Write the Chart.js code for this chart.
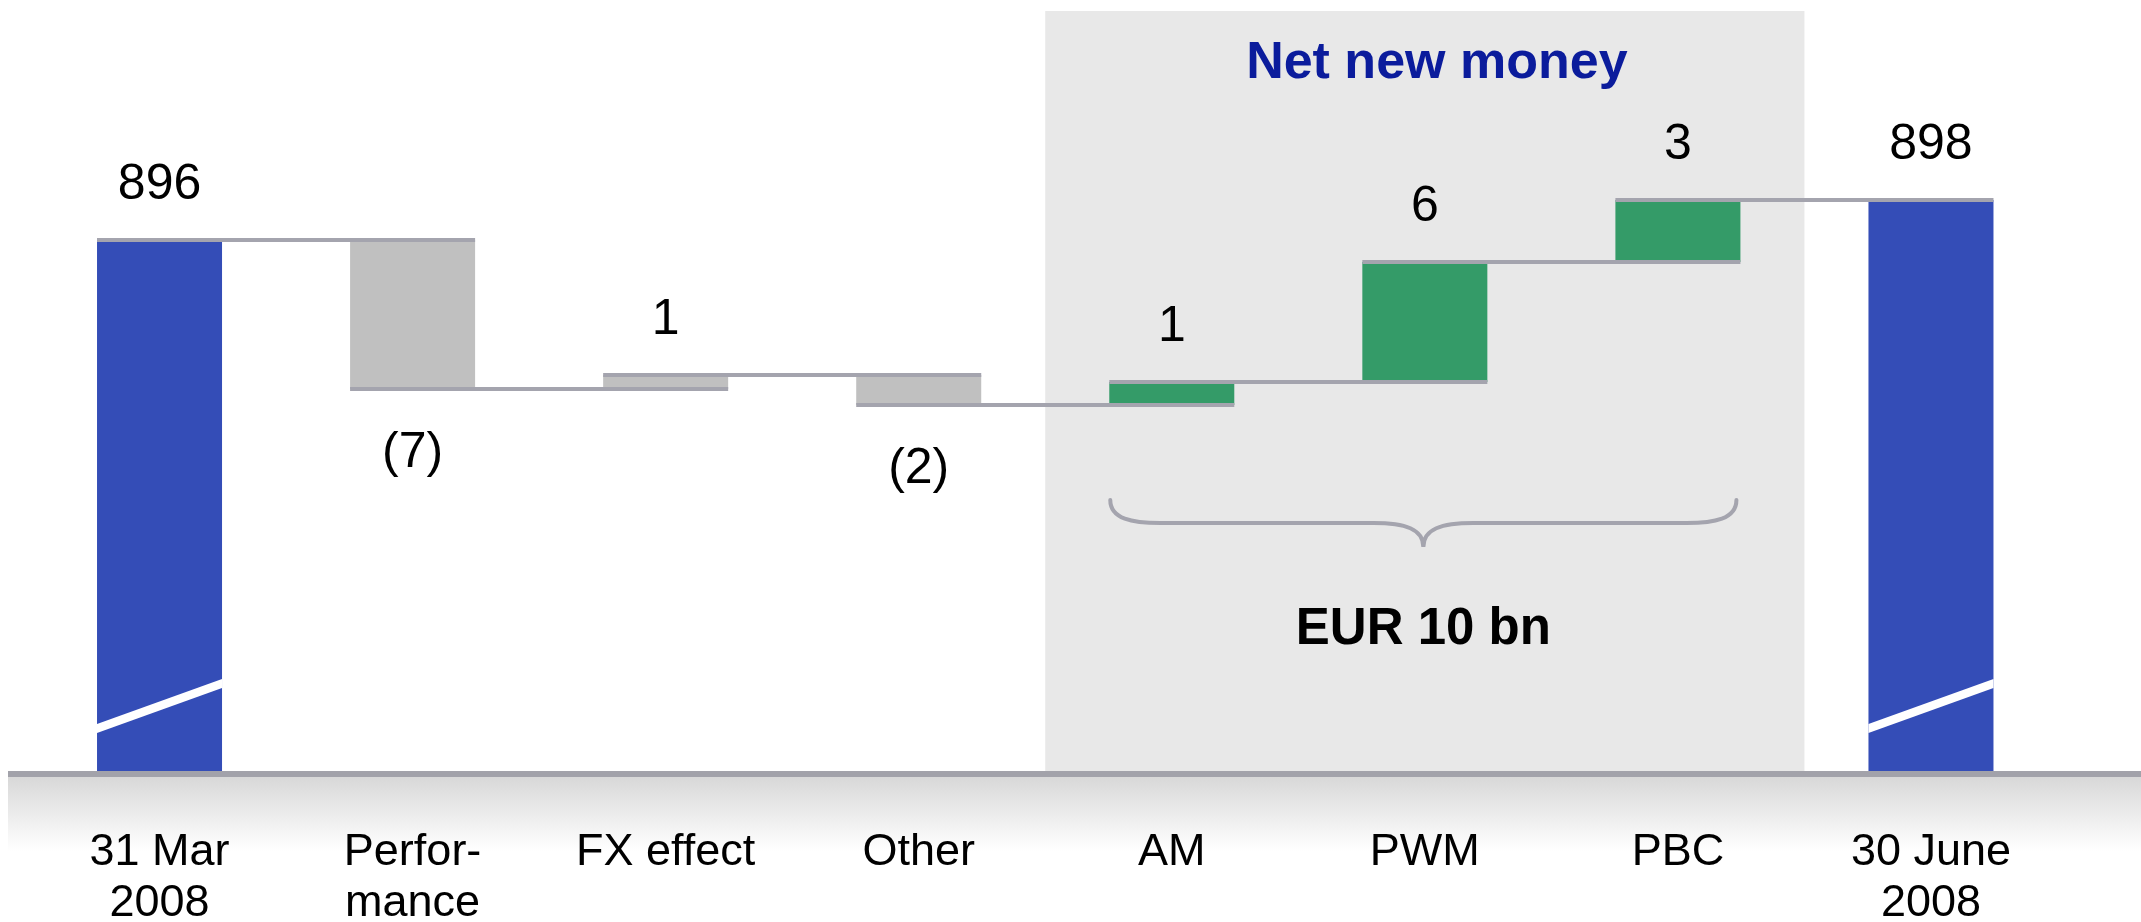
<!DOCTYPE html>
<html>
<head>
<meta charset="utf-8">
<script src="https://cdn.jsdelivr.net/npm/chart.js@4.4.0/dist/chart.umd.min.js"></script>
<style>
html, body { margin: 0; padding: 0; background: #fff; }
#wrap { width: 2141px; height: 922px; position: relative; }
</style>
</head>
<body>
<div id="wrap"><canvas id="waterfall"></canvas></div>
<script>
var categories = [['31 Mar', '2008'], ['Perfor-', 'mance'], 'FX effect', 'Other', 'AM', 'PWM', 'PBC', ['30 June', '2008']];
var startTotal = 896;
var endTotal = 898;
var changes = [-7.45, 0.7, -1.5, 1.15, 6.0, 3.1];
var valueLabels = ['896', '(7)', '1', '(2)', '1', '6', '3', '898'];
var netNewMoney = ['AM', 'PWM', 'PBC'];
var netNewMoneyTotal = 'EUR 10 bn';
var axisMin = 869.45;
var axisMax = 908;

// running levels after each bar
var levels = [startTotal];
changes.forEach(function (c, i) { levels.push(levels[i] + c); });

var barData = [[axisMin, startTotal]];
for (var i = 0; i < changes.length; i++) {
    barData.push([Math.min(levels[i], levels[i + 1]), Math.max(levels[i], levels[i + 1])]);
}
barData.push([axisMin, endTotal]);

var FONT = "'Liberation Sans', Arial, sans-serif";
var LINE_GREY = '#a4a4ae';

function barColor(ctx) {
    var i = ctx.dataIndex;
    if (i === 0 || i === categories.length - 1) return '#344db7';
    if (netNewMoney.indexOf(categories[i]) >= 0) return '#349b68';
    return '#c0c0c0';
}

var decorations = {
    id: 'decorations',
    beforeDraw: function (chart) {
        var ctx = chart.ctx, area = chart.chartArea;
        // soft shadow under the base line
        var g = ctx.createLinearGradient(0, area.bottom + 6, 0, area.bottom + 80);
        g.addColorStop(0, '#d8d8d8');
        g.addColorStop(1, '#ffffff');
        ctx.save();
        ctx.fillStyle = g;
        ctx.fillRect(8, area.bottom + 6, chart.width - 8, 74);
        ctx.restore();
    },
    beforeDatasetsDraw: function (chart) {
        var ctx = chart.ctx, x = chart.scales.x, area = chart.chartArea;
        var first = categories.indexOf(netNewMoney[0]);
        var last = categories.indexOf(netNewMoney[netNewMoney.length - 1]);
        var half = (x.getPixelForValue(1) - x.getPixelForValue(0)) / 2;
        var left = x.getPixelForValue(first) - half;
        var right = x.getPixelForValue(last) + half;
        ctx.save();
        ctx.fillStyle = '#e8e8e8';
        ctx.fillRect(left, area.top + 11, right - left, area.bottom - area.top - 11);
        ctx.fillStyle = '#0b1c9c';
        ctx.font = 'bold 52px ' + FONT;
        ctx.textAlign = 'center';
        ctx.textBaseline = 'middle';
        ctx.fillText('Net new money', (left + right) / 2 + 12, area.top + 64);
        ctx.restore();
    },
    afterDatasetsDraw: function (chart) {
        var ctx = chart.ctx, y = chart.scales.y, area = chart.chartArea;
        var bars = chart.getDatasetMeta(0).data;
        ctx.save();

        // connector lines between bars
        ctx.fillStyle = LINE_GREY;
        for (var i = 0; i < bars.length - 1; i++) {
            var a = bars[i], b = bars[i + 1];
            var ly = y.getPixelForValue(levels[i]);
            ctx.fillRect(a.x - a.width / 2, ly - 2, (b.x + b.width / 2) - (a.x - a.width / 2), 4);
        }

        // axis break marks on the total bars
        ctx.fillStyle = '#ffffff';
        [0, bars.length - 1].forEach(function (k) {
            var el = bars[k];
            var l = el.x - el.width / 2, r = el.x + el.width / 2, bt = area.bottom;
            ctx.beginPath();
            ctx.moveTo(l, bt - 38);
            ctx.lineTo(r, bt - 83);
            ctx.lineTo(r, bt - 92);
            ctx.lineTo(l, bt - 47);
            ctx.closePath();
            ctx.fill();
        });

        // base line
        ctx.fillStyle = '#a2a2aa';
        ctx.fillRect(8, area.bottom, chart.width - 8, 6);

        // value labels
        ctx.fillStyle = '#000';
        ctx.font = '50px ' + FONT;
        ctx.textAlign = 'center';
        ctx.textBaseline = 'middle';
        bars.forEach(function (el, i) {
            var neg = i > 0 && i <= changes.length && changes[i - 1] < 0;
            var ty = neg ? y.getPixelForValue(barData[i][0]) + 64 : y.getPixelForValue(barData[i][1]) - 55;
            ctx.fillText(valueLabels[i], el.x, ty);
        });

        // brace under net new money bars
        var f = bars[categories.indexOf(netNewMoney[0])];
        var t = bars[categories.indexOf(netNewMoney[netNewMoney.length - 1])];
        var L = f.x - f.width / 2 + 1, R = t.x + t.width / 2 - 4, M = (L + R) / 2;
        var top = area.bottom - 271, flat = area.bottom - 248, tip = area.bottom - 224;
        ctx.strokeStyle = LINE_GREY;
        ctx.lineWidth = 4;
        ctx.lineCap = 'round';
        ctx.beginPath();
        ctx.moveTo(L, top);
        ctx.bezierCurveTo(L, flat - 4, L + 22, flat, L + 50, flat);
        ctx.lineTo(M - 50, flat);
        ctx.bezierCurveTo(M - 18, flat, M, flat + 6, M, tip);
        ctx.bezierCurveTo(M, flat + 6, M + 18, flat, M + 50, flat);
        ctx.lineTo(R - 50, flat);
        ctx.bezierCurveTo(R - 22, flat, R, flat - 4, R, top);
        ctx.stroke();

        ctx.font = 'bold 51px ' + FONT;
        ctx.fillText(netNewMoneyTotal, M, area.bottom - 141);
        ctx.restore();
    }
};

var chart = new Chart(document.getElementById('waterfall').getContext('2d'), {
    type: 'bar',
    data: {
        labels: categories,
        datasets: [{
            data: barData,
            backgroundColor: barColor,
            borderWidth: 0,
            barPercentage: 0.494,
            categoryPercentage: 1
        }]
    },
    options: {
        responsive: true,
        maintainAspectRatio: false,
        animation: false,
        layout: { padding: { left: 33, right: 83.5, top: 0, bottom: 0 } },
        plugins: { legend: { display: false }, tooltip: { enabled: false } },
        scales: {
            y: { display: false, min: axisMin, max: axisMax },
            x: {
                grid: { display: false, drawTicks: false },
                border: { display: false },
                ticks: {
                    color: '#000',
                    font: { family: FONT, size: 45, lineHeight: 1.13 },
                    padding: 56,
                    maxRotation: 0,
                    autoSkip: false
                },
                afterFit: function (scale) { scale.height = 151; }
            }
        }
    },
    plugins: [decorations]
});
</script>
</body>
</html>
